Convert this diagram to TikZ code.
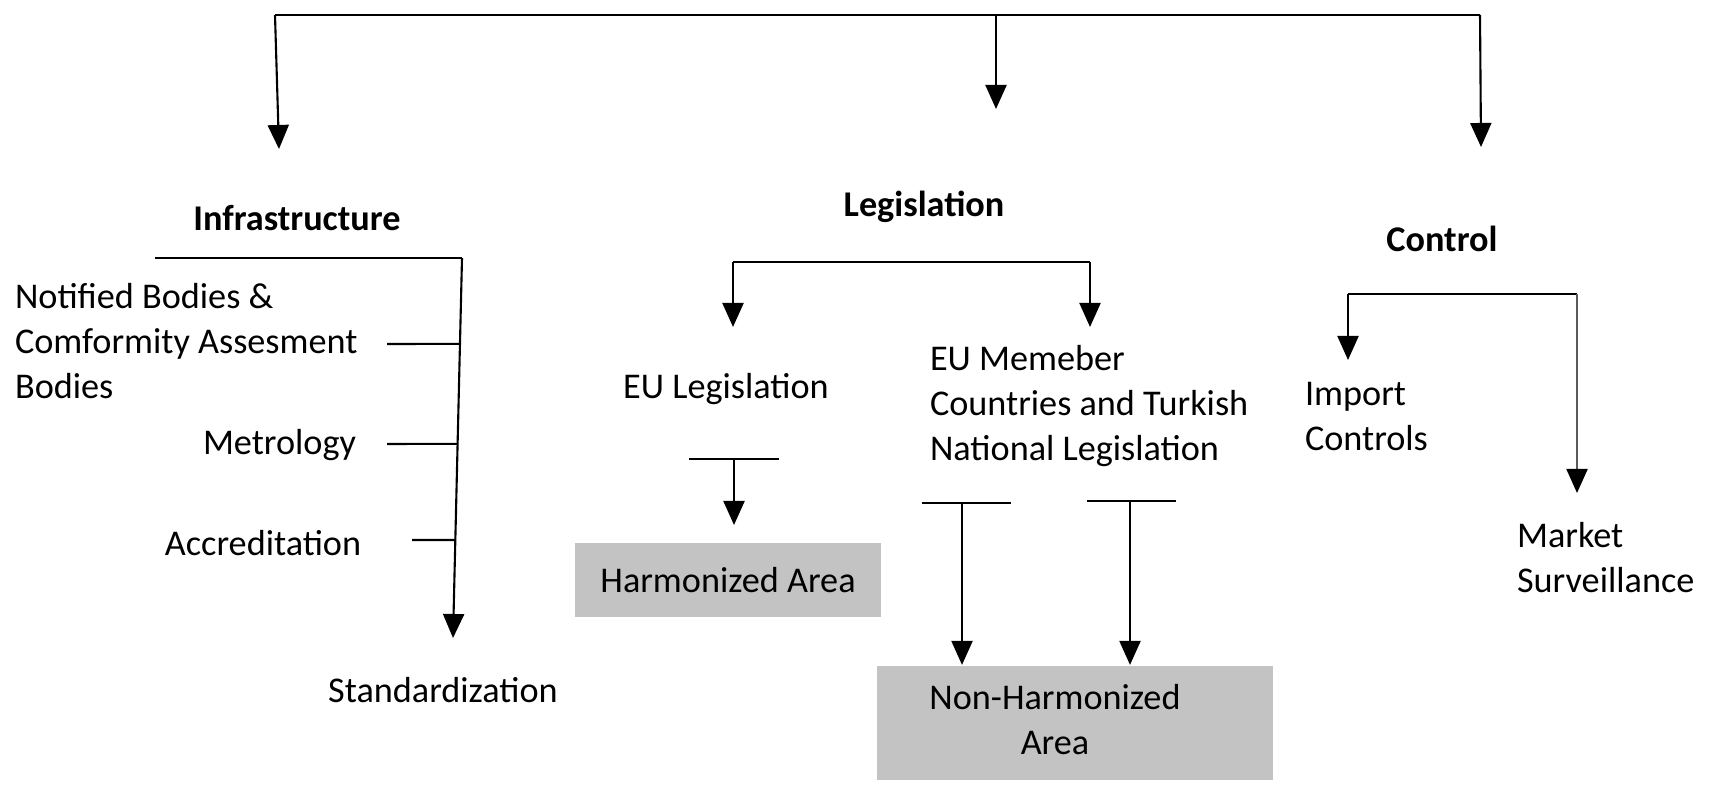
\documentclass[tikz,border=0pt]{standalone}
\usepackage{fontspec}
\setmainfont{Carlito}
\usetikzlibrary{arrows.meta,calc}
\definecolor{box}{RGB}{195, 195, 195}
\definecolor{pale}{RGB}{90, 90, 90}

\begin{document}
\begin{tikzpicture}[x=0.01cm, y=-0.01cm, line width=0.6pt,
    every node/.style={inner sep=0pt, font=\fontsize{10.3}{12.8}\selectfont},
    hd/.style={font=\fontsize{10.3}{12.8}\selectfont\bfseries},
    area/.style={fill=box},
    arr/.style={-{Triangle[width=0.21cm, length=0.24cm, color=black]}}]
  \useasboundingbox (0,0) rectangle (1710,786);

  % top bracket
  \coordinate (t1) at (275,15);
  \coordinate (t2) at (996,15);
  \coordinate (t3) at (1480,15);
  \coordinate (a1) at (279,149);
  \coordinate (a2) at (996,109);
  \coordinate (a3) at (1481,147);
  \draw (t1) -- (t3);
  \draw[arr] (t1) -- (a1);
  \draw[arr] (t2) -- (a2);
  \draw[arr] (t3) -- (a3);

  \node[hd] (inf) at (297,218) {Infrastructure};
  \node[hd] (leg) at (924,207) {Legislation};
  \node[hd] (con) at (1442,239) {Control};

  % infrastructure
  \coordinate (i1) at (155,258);
  \coordinate (i2) at (462,258);
  \coordinate (i3) at (453,638);
  \draw (i1) -- (i2);
  \draw[arr] (i2) -- (i3);
  \coordinate (k1) at ($(i2)!0.226!(i3)$);
  \coordinate (k2) at ($(i2)!0.489!(i3)$);
  \coordinate (k3) at ($(i2)!0.742!(i3)$);
  \draw (387,344) -- (k1);
  \draw (387,444) -- (k2);
  \draw (412,540) -- (k3);
  \node[anchor=west, align=left] (nb) at (14,341) {Notified Bodies \&\\Comformity Assesment\\Bodies};
  \node[anchor=east] (met) at (357,445) {Metrology};
  \node (acc) at (263,543) {Accreditation};
  \node (std) at (443,690) {Standardization};

  % legislation
  \coordinate (l1) at (733,262);
  \coordinate (l2) at (1090,262);
  \coordinate (l3) at (733,327);
  \coordinate (l4) at (1090,327);
  \draw (l1) -- (l2);
  \draw[arr] (l1) -- (l3);
  \draw[arr] (l2) -- (l4);
  \node (eul) at (726,389) {EU Legislation};
  \node[anchor=west, align=left] (mem) at (929,406) {EU Memeber\\Countries and Turkish\\National Legislation};
  \node[area, minimum width=3.05cm, minimum height=0.73cm] (harm) at (728,580) {Harmonized Area};
  \node[area, minimum width=3.95cm, minimum height=1.14cm] (nh) at (1075,723)
    {\hspace*{-0.4cm}\begin{tabular}{@{}c@{}}Non-Harmonized\\Area\end{tabular}};

  \coordinate (e1) at (734,459);
  \draw (689,459) -- (779,459);
  \draw[arr] (e1) -- (734,525);
  \coordinate (n1) at (962,503);
  \coordinate (n2) at (1130,501);
  \draw (922,503) -- (1011,503);
  \draw (1087,501) -- (1176,501);
  \draw[arr] (n1) -- (n1 |- nh.north);
  \draw[arr] (n2) -- (n2 |- nh.north);

  % control
  \coordinate (c1) at (1348,294);
  \coordinate (c2) at (1577,294);
  \draw (c1) -- (c2);
  \draw[arr] (c1) -- (1348,360);
  \draw[arr, pale] (c2) -- (1577,493);
  \node[anchor=west, align=left] (imp) at (1304,417) {Import\\Controls};
  \node[anchor=west, align=left] (mkt) at (1516,558) {Market\\Surveillance};
\end{tikzpicture}
\end{document}
